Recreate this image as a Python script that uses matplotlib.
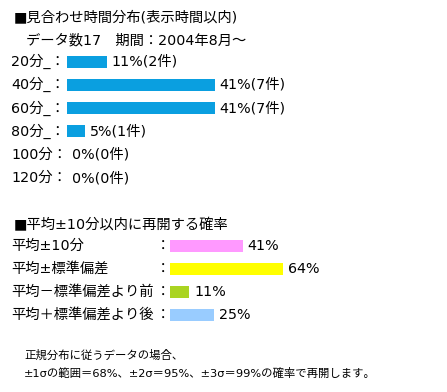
"""見合わせ時間分布 / 再開確率 の表示を matplotlib で再現."""
import matplotlib
matplotlib.use("Agg")
import matplotlib.pyplot as plt  # noqa: E402

# latin from DejaVu (verdana-like), kana/kanji fall through to Noto CJK
plt.rcParams["font.family"] = ["DejaVu Sans", "Noto Sans CJK JP"]

# --- data -------------------------------------------------------------
title1 = "■見合わせ時間分布(表示時間以内)"
subtitle1 = "データ数17\u3000期間：2004年8月～"
dist_labels = ["20分_：", "40分_：", "60分_：", "80分_：", "100分：", "120分："]
dist_pct = [11, 41, 41, 5, 0, 0]
dist_cnt = [2, 7, 7, 1, 0, 0]

title2 = "■平均±10分以内に再開する確率"
prob_labels = ["平均±10分", "平均±標準偏差", "平均－標準偏差より前", "平均＋標準偏差より後"]
prob_pct = [41, 64, 11, 25]
prob_colors = ["#ff99ff", "#ffff00", "#aad422", "#99ccff"]

note_lines = ["正規分布に従うデータの場合、",
              "±1σの範囲＝68%、±2σ＝95%、±3σ＝99%の確率で再開します。"]

# --- layout (pixel coords, y down) ------------------------------------
W, H = 447, 392
FS = 10.3
fig = plt.figure(figsize=(W / 100, H / 100), dpi=100)
ax = fig.add_axes([0, 0, 1, 1])
ax.set_xlim(0, W)
ax.set_ylim(H, 0)
ax.axis("off")

ax.text(14, 17, title1, fontsize=FS, va="center")
ax.text(26, 40, subtitle1, fontsize=FS, va="center")

x0, scale1 = 67, 3.6
y1 = [61.5 + 23.3 * i for i in range(len(dist_pct))]
ax.barh(y1, [p * scale1 for p in dist_pct], height=12, left=x0,
        color="#0a9fe0")
for y, lab, p, n in zip(y1, dist_labels, dist_pct, dist_cnt):
    ax.text(11, y, lab, fontsize=FS, va="center")
    ax.text(x0 + p * scale1 + 5, y, f"{p}%({n}件)", fontsize=FS, va="center")

ax.text(14, 225, title2, fontsize=FS, va="center")

x2, scale2 = 170, 1.77
y2 = [246 + 23 * i for i in range(len(prob_pct))]
ax.barh(y2, [p * scale2 for p in prob_pct], height=12, left=x2,
        color=prob_colors)
for y, lab, p in zip(y2, prob_labels, prob_pct):
    ax.text(11, y, lab, fontsize=FS, va="center")
    ax.text(163, y, "：", fontsize=FS, va="center", ha="center")
    ax.text(x2 + p * scale2 + 5, y, f"{p}%", fontsize=FS, va="center")

for i, line in enumerate(note_lines):
    ax.text(24, 355 + 18 * i, line, fontsize=8.2, va="center")

fig.savefig("out.png", dpi=100)
